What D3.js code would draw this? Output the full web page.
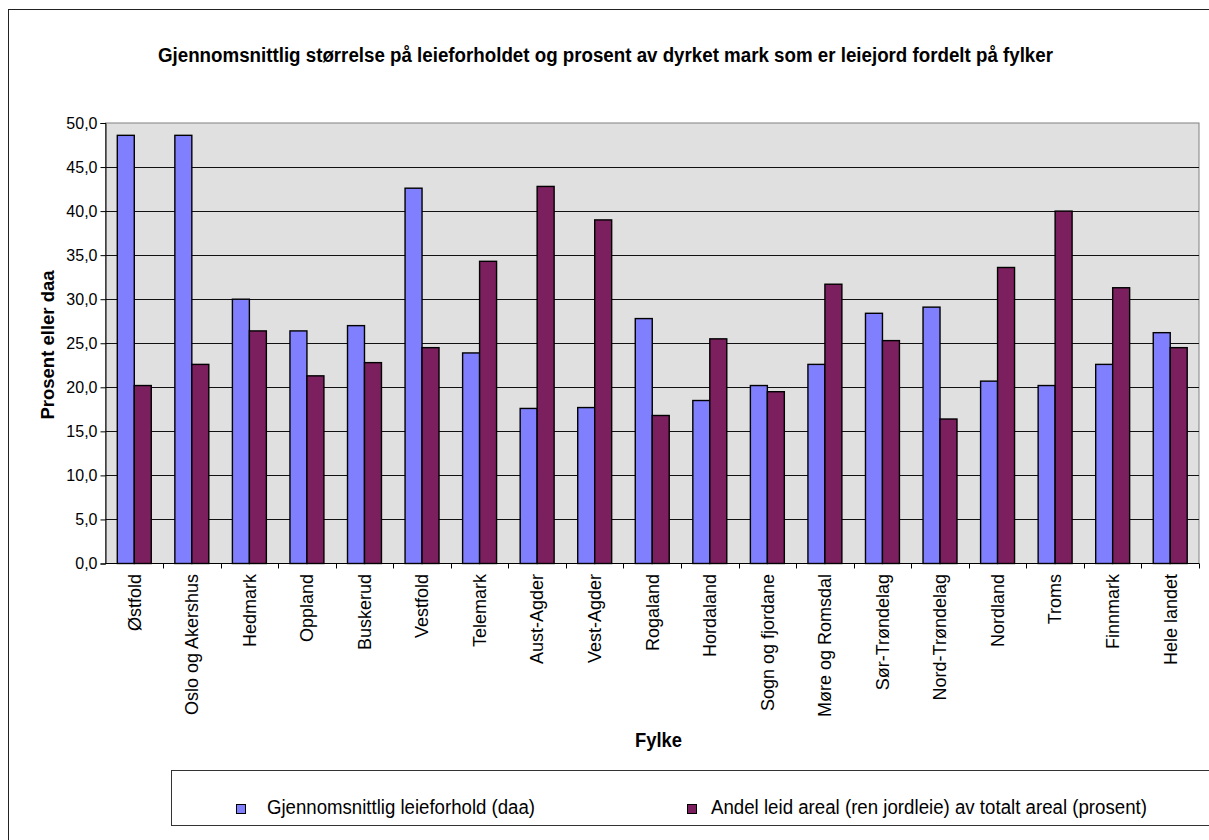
<!DOCTYPE html>
<html lang="no">
<head>
<meta charset="utf-8">
<script src="https://cdn.jsdelivr.net/npm/d3@7"></script>
<style>
  html, body { margin: 0; padding: 0; background: #fff; }
  svg { display: block; font-family: "Liberation Sans", Arial, sans-serif; }
</style>
</head>
<body>
<svg id="chart" width="1209" height="840"></svg>
<script>
// Fylker (counties) shown along the x axis
const fylker = [
  "Østfold", "Oslo og Akershus", "Hedmark", "Oppland", "Buskerud", "Vestfold",
  "Telemark", "Aust-Agder", "Vest-Agder", "Rogaland", "Hordaland", "Sogn og fjordane",
  "Møre og Romsdal", "Sør-Trøndelag", "Nord-Trøndelag", "Nordland", "Troms",
  "Finnmark", "Hele landet"
];

// Gjennomsnittlig leieforhold (daa)
const leieforhold = [
  48.6, 48.6, 30.0, 26.4, 27.0, 42.6, 23.9, 17.6, 17.7, 27.8,
  18.5, 20.2, 22.6, 28.4, 29.1, 20.7, 20.2, 22.6, 26.2
];

// Andel leid areal (ren jordleie) av totalt areal (prosent)
const andelLeid = [
  20.2, 22.6, 26.4, 21.3, 22.8, 24.5, 34.3, 42.8, 39.0, 16.8,
  25.5, 19.5, 31.7, 25.3, 16.4, 33.6, 40.0, 31.3, 24.5
];

const seriesNames = [
  "Gjennomsnittlig leieforhold (daa)",
  "Andel leid areal (ren jordleie) av totalt areal (prosent)"
];
const seriesColors = ["#8080ff", "#7b1f5e"];
const yTicks = [0, 5, 10, 15, 20, 25, 30, 35, 40, 45, 50];

const titleText = "Gjennomsnittlig størrelse på leieforholdet og prosent av dyrket mark som er leiejord fordelt på fylker";
const yTitle = "Prosent eller daa";
const xTitle = "Fylke";

const svg = d3.select("#chart");

// chart frame
svg.append("rect")
  .attr("x", 8.5).attr("y", 9.5).attr("width", 1300).attr("height", 900)
  .attr("fill", "#fff").attr("stroke", "#222").attr("stroke-width", 1);

const plot = { left: 105.5, right: 1199, top: 123, bottom: 563.5 };

const x = d3.scaleBand().domain(fylker).range([plot.left, plot.right]).padding(0);
const groupW = x.bandwidth() * 0.59;
const xs = d3.scaleBand().domain([0, 1]).range([0, groupW]);
const y = d3.scaleLinear().domain([0, 50]).range([plot.bottom, plot.top]);

// plot background
svg.append("rect")
  .attr("x", plot.left).attr("y", plot.top)
  .attr("width", plot.right - plot.left).attr("height", plot.bottom - plot.top)
  .attr("fill", "#e0e0e0").attr("stroke", "#808080").attr("stroke-width", 1);

// horizontal gridlines
svg.append("g")
  .selectAll("line")
  .data(yTicks.filter(t => t > 0 && t < 50))
  .join("line")
  .attr("x1", plot.left).attr("x2", plot.right)
  .attr("y1", d => Math.round(y(d)) + 0.5).attr("y2", d => Math.round(y(d)) + 0.5)
  .attr("stroke", "#111").attr("stroke-width", 1);

// bars
const series = [leieforhold, andelLeid];
const groups = svg.append("g")
  .selectAll("g")
  .data(fylker)
  .join("g")
  .attr("transform", d => `translate(${x(d) + (x.bandwidth() - groupW) / 2},0)`);

groups.selectAll("rect")
  .data((d, i) => series.map((s, k) => ({ k, v: s[i] })))
  .join("rect")
  .attr("x", d => xs(d.k))
  .attr("width", xs.bandwidth())
  .attr("y", d => y(d.v))
  .attr("height", d => y(0) - y(d.v))
  .attr("fill", d => seriesColors[d.k])
  .attr("stroke", "#000")
  .attr("stroke-width", 1.4);

// y axis
const yAxis = svg.append("g")
  .attr("transform", `translate(${plot.left},0)`)
  .call(d3.axisLeft(y).tickValues(yTicks).tickSize(5).tickPadding(3)
    .tickFormat(d => d.toFixed(1).replace(".", ",")));
yAxis.select(".domain").attr("stroke", "#000");
yAxis.selectAll(".tick line").attr("stroke", "#000");
yAxis.selectAll(".tick text")
  .attr("font-size", 16).attr("fill", "#000")
  .attr("font-family", "Liberation Sans, Arial, sans-serif");

// x axis line and tick marks at category boundaries
svg.append("line")
  .attr("x1", plot.left).attr("x2", plot.right)
  .attr("y1", plot.bottom).attr("y2", plot.bottom)
  .attr("stroke", "#000").attr("stroke-width", 1.2);
svg.append("g")
  .selectAll("line")
  .data(fylker)
  .join("line")
  .attr("x1", d => Math.round(x(d) + x.bandwidth()) + 0.5)
  .attr("x2", d => Math.round(x(d) + x.bandwidth()) + 0.5)
  .attr("y1", plot.bottom).attr("y2", plot.bottom + 5)
  .attr("stroke", "#000");

// category labels, rotated
svg.append("g")
  .selectAll("text")
  .data(fylker)
  .join("text")
  .attr("transform", d => `translate(${x(d) + x.bandwidth() / 2},574) rotate(-90)`)
  .attr("dy", "0.35em")
  .attr("text-anchor", "end")
  .attr("font-size", 18)
  .attr("fill", "#000")
  .text(d => d);

// title
svg.append("text")
  .attr("x", 158).attr("y", 62)
  .attr("font-size", 20).attr("font-weight", "bold")
  .attr("textLength", 895).attr("lengthAdjust", "spacingAndGlyphs")
  .text(titleText);

// axis titles
svg.append("text")
  .attr("transform", "translate(54,345) rotate(-90)")
  .attr("text-anchor", "middle")
  .attr("font-size", 18.5).attr("font-weight", "bold")
  .text(yTitle);

svg.append("text")
  .attr("x", 635).attr("y", 747)
  .attr("font-size", 20).attr("font-weight", "bold")
  .attr("textLength", 47).attr("lengthAdjust", "spacingAndGlyphs")
  .text(xTitle);

// legend
const legend = svg.append("g");
legend.append("rect")
  .attr("x", 171.5).attr("y", 770.5).attr("width", 1100).attr("height", 55)
  .attr("fill", "#fff").attr("stroke", "#333").attr("stroke-width", 1);

const legendItems = [
  { sx: 236, tx: 267, tw: 268 },
  { sx: 687, tx: 711, tw: 436 }
];
legend.selectAll("rect.key")
  .data(legendItems)
  .join("rect")
  .attr("class", "key")
  .attr("x", d => d.sx + 0.5).attr("y", 804.5)
  .attr("width", 9).attr("height", 9)
  .attr("fill", (d, i) => seriesColors[i])
  .attr("stroke", "#000").attr("stroke-width", 1);
legend.selectAll("text")
  .data(legendItems)
  .join("text")
  .attr("x", d => d.tx).attr("y", 814)
  .attr("font-size", 20)
  .attr("textLength", d => d.tw).attr("lengthAdjust", "spacingAndGlyphs")
  .text((d, i) => seriesNames[i]);
</script>
</body>
</html>
